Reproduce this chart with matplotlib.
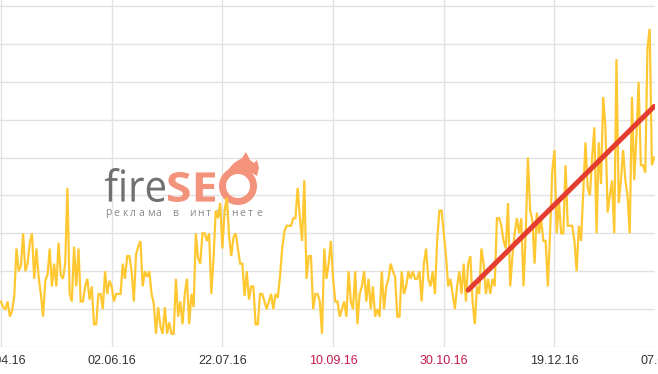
import numpy as np
import pandas as pd
import matplotlib
matplotlib.use("Agg")
import matplotlib.pyplot as plt
import matplotlib.dates as mdates
from matplotlib.textpath import TextPath
from matplotlib.font_manager import FontProperties
from matplotlib.patches import PathPatch, Wedge, Polygon
from matplotlib.transforms import Affine2D, offset_copy

# daily visits (one value per day)
visits = [
    24, 21, 20, 24, 16, 19, 27, 52, 40, 43, 60, 40, 44, 55, 60, 36, 52, 37, 28, 16,
    35, 38, 52, 32, 44, 32, 55, 38, 36, 44, 84, 28, 24, 53, 32, 52, 24, 24, 32, 36,
    25, 32, 12, 12, 28, 28, 20, 40, 28, 35, 32, 24, 28, 28, 28, 44, 36, 48, 48, 40,
    24,
    49, 53, 56, 32, 40, 37, 40, 28, 23, 7, 21, 11, 7, 21, 7, 13, 7, 7, 36, 16,
    24, 12, 28, 36, 12, 28, 21, 60, 47, 44, 60, 60, 56, 60, 28, 47, 72, 68, 76, 52,
    72, 79, 59, 48, 58, 60, 52, 44, 44, 27, 40, 25, 32, 32, 12, 12, 28, 28,
    24, 20, 24, 28, 20, 28, 26, 37, 52, 61, 64, 64, 64, 68, 68, 84, 68, 56, 88, 36,
    48, 48, 20, 28, 28, 24, 7, 52, 36, 44, 56, 36, 24, 24, 16, 20, 24, 16, 40, 24,
    20, 40, 12, 28, 32, 40, 24, 36, 20, 32, 16, 20, 16, 40, 20, 32, 36, 44, 40,
    37, 16, 16, 40, 28, 32, 40, 36, 40, 36, 36, 40, 24, 44, 52, 36, 32, 40, 28, 56,
    72, 72, 60, 48, 32, 36, 28, 20, 32, 40, 28, 44, 24, 44, 48, 24, 12, 32, 28, 52,
    44, 28, 36, 28, 36, 32, 68, 68, 64, 56, 52, 76, 32, 48, 60, 68, 60, 68,
    32, 60, 100, 72, 67, 44, 71, 60, 67, 56, 56, 32, 60, 93, 104, 60, 77, 60, 60, 96,
    64, 64, 64, 56, 40, 64, 56, 82, 108, 84, 80, 100, 116, 60, 108, 86, 132, 116, 71, 80,
    88, 60, 152, 76, 88, 104, 88, 80, 60, 132, 88, 111, 140, 96, 96, 92, 158, 168, 96, 100,
]
start_date = "2016-04-13"
dates = pd.date_range(start_date, periods=len(visits), freq="D")

# trend line end points
trend_dates = [pd.Timestamp("2016-11-10"), dates[-1]]
trend_values = [30, 127]

tick_dates = pd.date_range(start_date, periods=7, freq="50D")
tick_labels = [d.strftime("%d.%m.%y") for d in tick_dates]

W, H = 658, 374
fig = plt.figure(figsize=(W / 100, H / 100), dpi=100)
ax = fig.add_axes([0, 27 / H, 655 / W, 347 / H])

ax.plot(dates, visits, color="#ffc832", lw=1.6, zorder=3, solid_joinstyle="miter")
ax.plot(trend_dates, trend_values, color="#e43d30", lw=3.6, zorder=4,
        solid_capstyle="round")

ax.set_yticks(np.arange(0, 181, 20))
ax.set_xticks(tick_dates)
ax.set_xticklabels(tick_labels)
# limits after the ticks, otherwise set_xticks widens the view
x0 = mdates.date2num(dates[0])
ax.set_xlim(x0 - 0.45, x0 + 295.4)
ax.set_ylim(0, 183.2)
ax.tick_params(axis="y", length=0, labelleft=False)
ax.tick_params(axis="x", length=0, pad=5.5)
ax.grid(True, color="#e2e2e2", lw=1.0, zorder=0)
ax.set_axisbelow(True)
for s in ax.spines.values():
    s.set_visible(False)


def label_color(d):
    return "#c51a4a" if d.dayofweek >= 5 else "#333333"


for lbl, d in zip(ax.get_xticklabels(), tick_dates):
    lbl.set_fontfamily("Liberation Sans")
    lbl.set_fontsize(9)
    lbl.set_color(label_color(d))

# the last tick lies past the right edge of the plot, its label still peeks in
last_tr = offset_copy(ax.get_xaxis_transform(), fig=fig, y=-5.5, units="points")
ax.text(tick_dates[-1], 0, tick_labels[-1], transform=last_tr, ha="center", va="top",
        family="Liberation Sans", fontsize=9, color=label_color(tick_dates[-1]),
        clip_on=False)

# watermark logo, in pixel coordinates from the top-left corner
px = Affine2D().scale(1 / 100, -1 / 100).translate(0, H / 100) + fig.dpi_scale_trans


def logo_word(s, bx0, by0, bx1, by1, color, weight):
    tp = TextPath((0, 0), s, size=100, prop=FontProperties(family="Open Sans", weight=weight))
    bb = tp.get_extents()
    tr = Affine2D().translate(-bb.x0, -bb.y0).scale((bx1 - bx0) / bb.width,
                                                    -(by1 - by0) / bb.height).translate(bx0, by1)
    ax.add_patch(PathPatch(tp, transform=tr + px, color=color, lw=0, zorder=2))


salmon = "#f4937c"
logo_word("fire", 105, 168, 165, 202, "#707070", "normal")
logo_word("SE", 168, 172, 215, 202, salmon, "bold")
ax.add_patch(Wedge((238, 186), 19, 0, 360, width=7, transform=px, color=salmon, lw=0, zorder=2))
ax.add_patch(Polygon([(226, 172), (234, 163), (242, 158), (246, 152), (250, 160), (254, 163),
                      (257, 160), (259, 168), (257, 176), (250, 172)],
                     closed=True, transform=px, color=salmon, lw=0, zorder=2))

tagline = "реклама в интернете"
for i, ch in enumerate(tagline):
    ax.text(105 + i * 8.4, 213, ch, transform=px, fontsize=7.5, color="#8a8a8a",
            family="Open Sans", ha="left", va="center", zorder=2)

fig.savefig("out.png", dpi=100)
